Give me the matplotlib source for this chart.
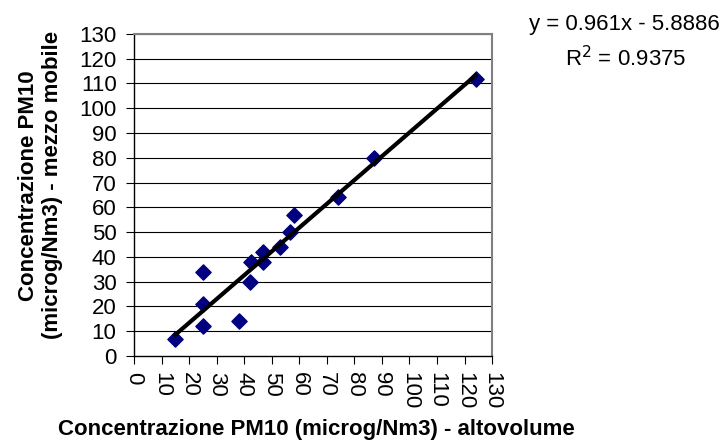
import matplotlib
matplotlib.use("Agg")
import matplotlib.pyplot as plt
import numpy as np

plt.rcParams["font.family"] = ["Liberation Sans", "DejaVu Sans"]

# altovolume (x) vs mezzo mobile (y)
altovolume = [15, 25, 25, 25, 38, 42, 42.5, 47, 47, 53, 56.5, 58, 74, 87, 124]
mezzo_mobile = [7, 34, 21, 12, 14, 30, 38, 42, 38, 44, 50, 57, 64, 80, 112]

slope = 0.961
intercept = -5.8886
r2 = 0.9375

ticks = np.arange(0, 131, 10)

fig = plt.figure(figsize=(7.28, 4.41), dpi=100)
ax = fig.add_axes([0.184, 0.193, 0.492, 0.730])

for y in ticks[1:]:
    ax.axhline(y, color="black", linewidth=0.8, zorder=1)

ax.scatter(altovolume, mezzo_mobile, marker="D", s=60, color="#000080",
           edgecolors="#000080", zorder=3)

xs = np.array([min(altovolume), max(altovolume)])
ax.plot(xs, slope * xs + intercept, color="black", linewidth=3.0, zorder=4)

ax.set_xlim(0, 130)
ax.set_ylim(0, 130)
ax.set_xticks(ticks)
ax.set_yticks(ticks)
ax.set_xticklabels([str(t) for t in ticks], rotation=270)
ax.tick_params(axis="both", direction="out", length=5.5, labelsize=16,
               colors="black")
ax.tick_params(axis="y", pad=7)
ax.tick_params(axis="x", pad=6)

for s in ["top", "right"]:
    ax.spines[s].set_color("#808080")
    ax.spines[s].set_linewidth(1.5)
for s in ["left", "bottom"]:
    ax.spines[s].set_color("black")
    ax.spines[s].set_linewidth(1.0)

# x label placed by hand so it stays inside the figure
fig.text(0.435, 0.014, "Concentrazione PM10 (microg/Nm3) - altovolume",
         fontsize=16, fontweight="bold", ha="center", va="baseline")
ax.set_ylabel("Concentrazione PM10\n(microg/Nm3) - mezzo mobile",
              fontsize=16, fontweight="bold")
ax.yaxis.set_label_coords(-0.197, 0.53)

fig.text(0.857, 0.945, "y = 0.961x - 5.8886", fontsize=16, ha="center",
         va="center")
fig.text(0.859, 0.868, "R$^2$ = 0.9375", fontsize=16, ha="center",
         va="center")

fig.savefig("out.png", dpi=100)
